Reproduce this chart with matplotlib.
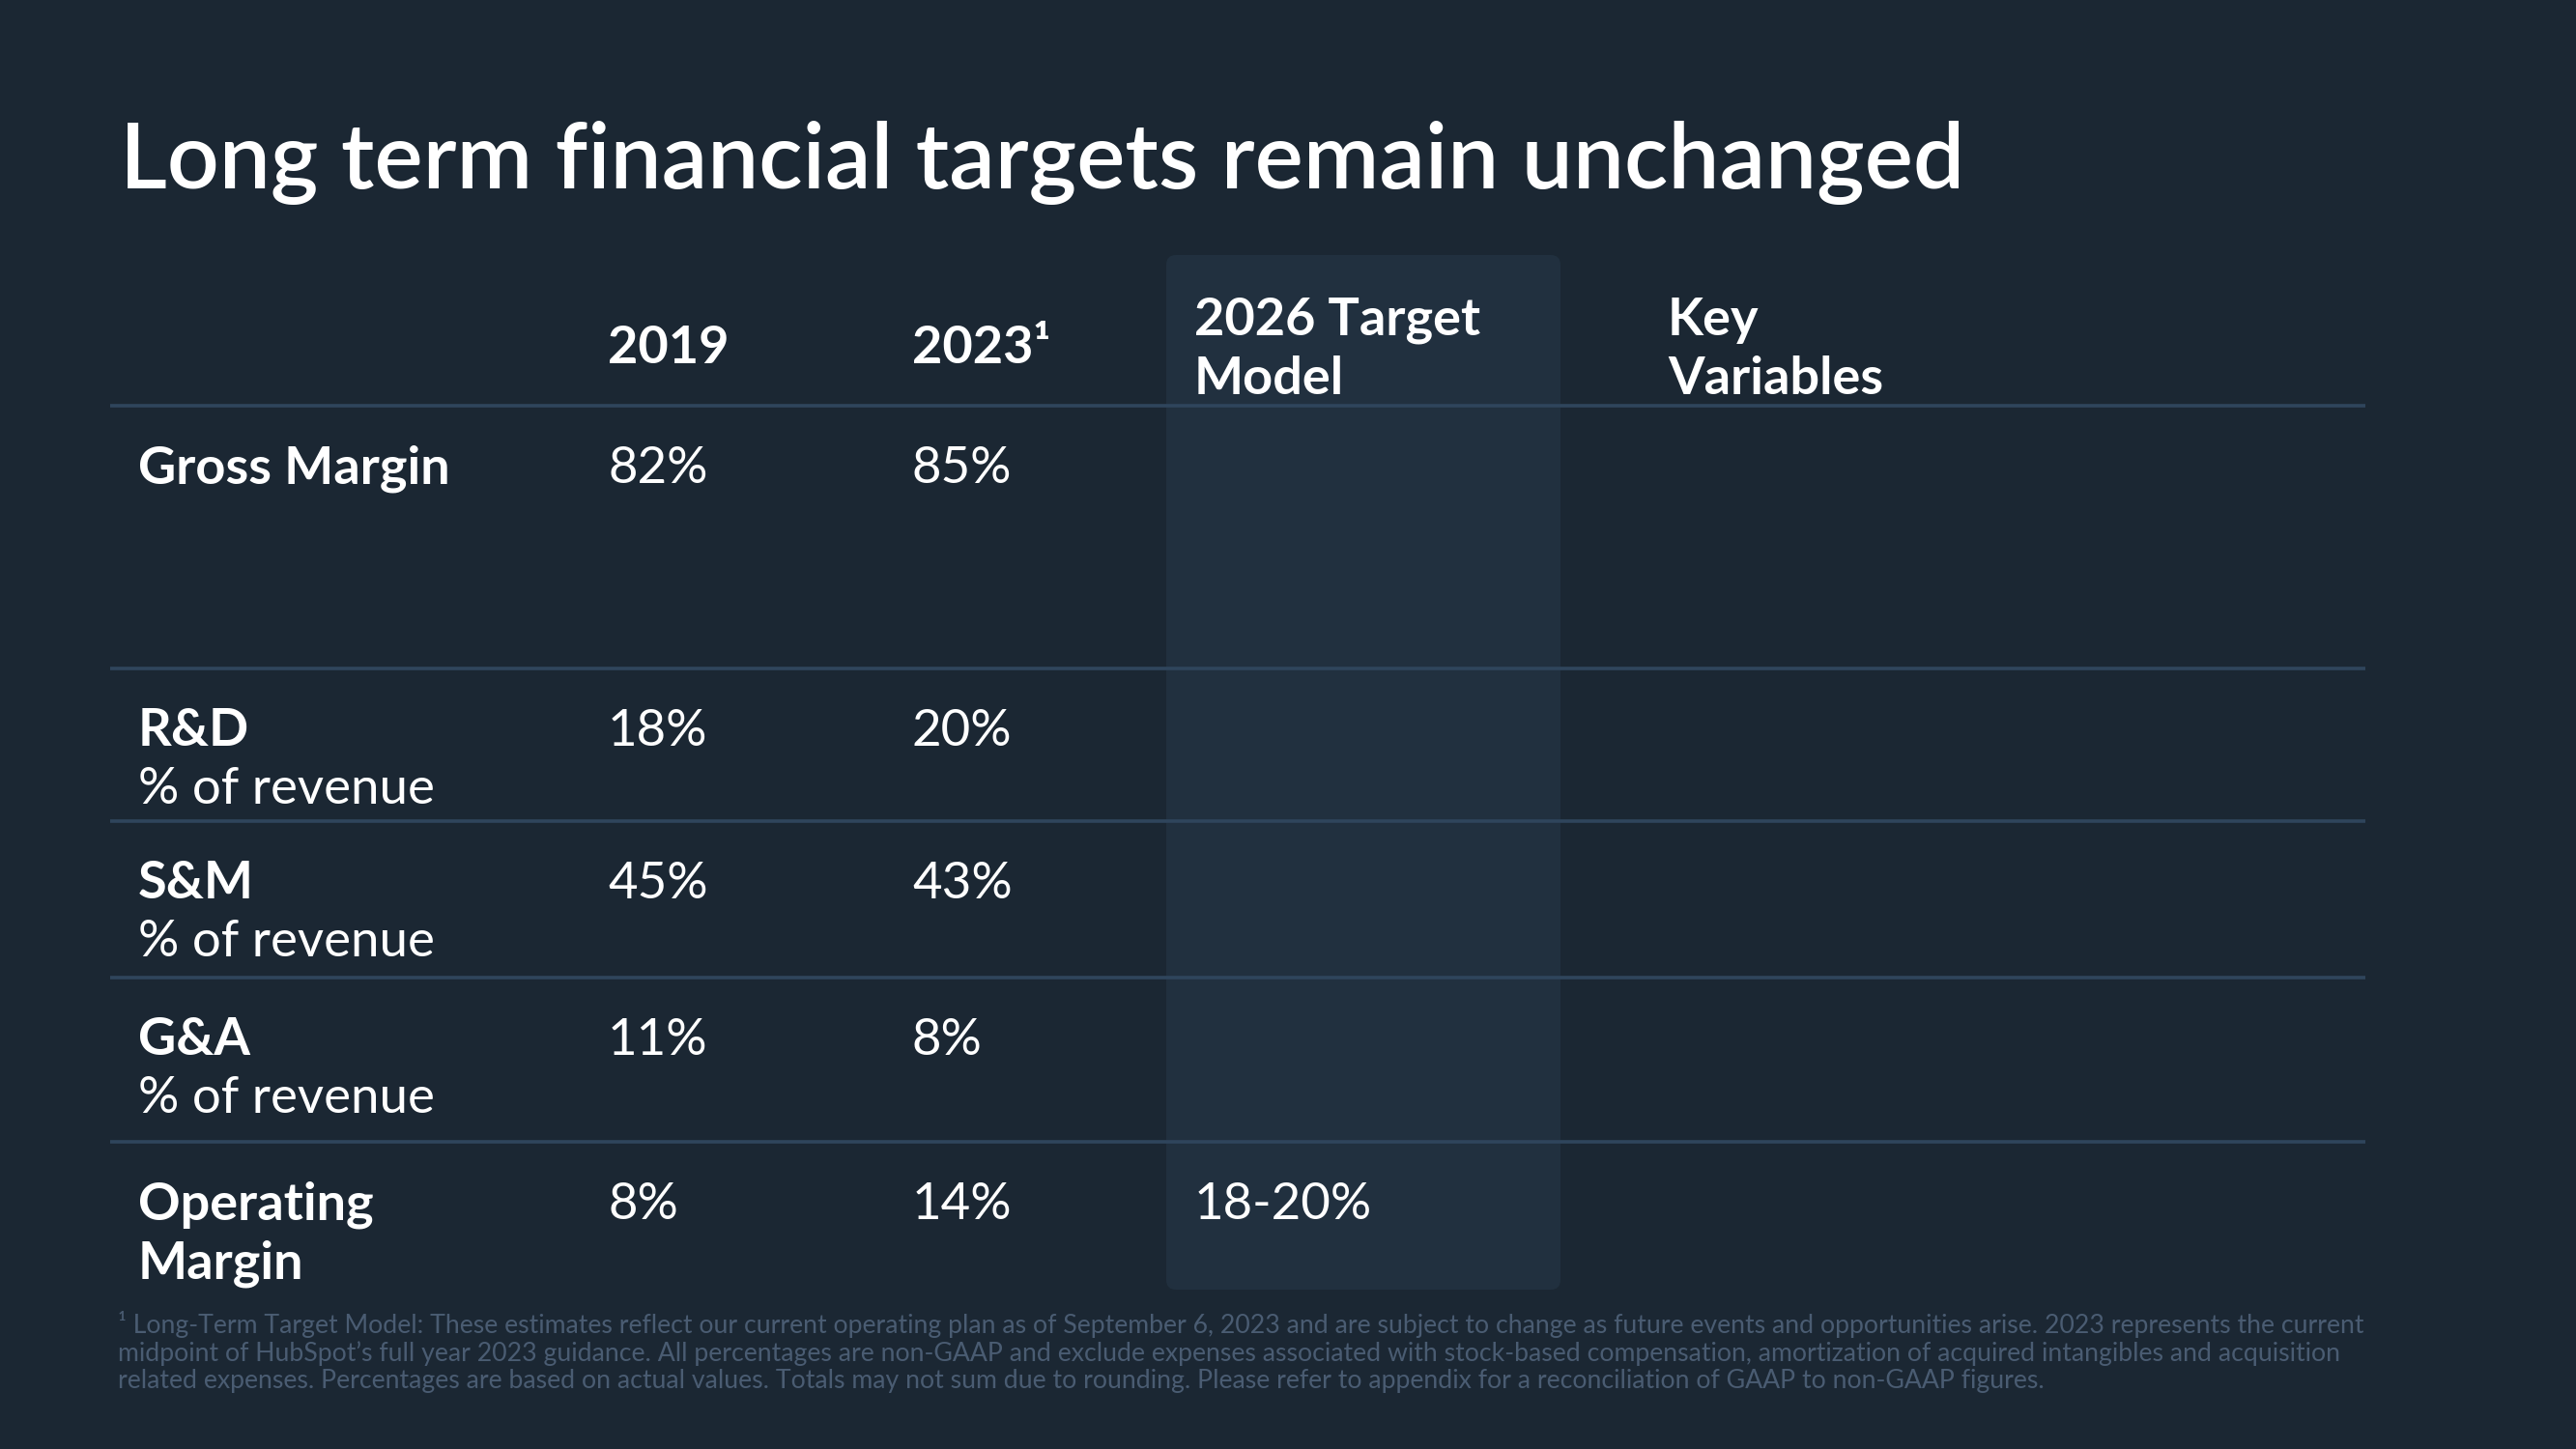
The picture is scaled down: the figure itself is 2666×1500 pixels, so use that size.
import matplotlib
matplotlib.use("Agg")
import matplotlib.pyplot as plt
from matplotlib.patches import FancyBboxPatch

title = "Long term financial targets remain unchanged"
headers = ["2019", "2023\u00b9", "2026 Target\nModel", "Key\nVariables"]
row_titles = ["Gross Margin", "R&D", "S&M", "G&A", "Operating\nMargin"]
row_subtitles = ["", "% of revenue", "% of revenue", "% of revenue", ""]
values_2019 = ["82%", "18%", "45%", "11%", "8%"]
values_2023 = ["85%", "20%", "43%", "8%", "14%"]
values_2026 = ["", "", "", "", "18-20%"]
footnote = ("\u00b9 Long-Term Target Model: These estimates reflect our current operating plan as of September 6, 2023 and are subject to change as future events and opportunities arise. 2023 represents the current\n"
            "midpoint of HubSpot\u2019s full year 2023 guidance. All percentages are non-GAAP and exclude expenses associated with stock-based compensation, amortization of acquired intangibles and acquisition\n"
            "related expenses. Percentages are based on actual values. Totals may not sum due to rounding. Please refer to appendix for a reconciliation of GAAP to non-GAAP figures.")

BG = "#1b2733"
BOX = "#21303f"
LINE = "#2f455c"
FOOT = "#4a5c72"
FONT = ["Lato", "DejaVu Sans"]

plt.rcParams['font.family'] = FONT

fig = plt.figure(figsize=(26.66, 15), dpi=100, facecolor=BG)
ax = fig.add_axes([0, 0, 1, 1])
ax.set_xlim(0, 2666)
ax.set_ylim(1500, 0)
ax.axis('off')
ax.set_facecolor(BG)

# highlight column
box = FancyBboxPatch((1207, 264), 408, 1071, boxstyle="round,pad=0,rounding_size=10",
                     facecolor=BOX, edgecolor='none', zorder=1)
ax.add_patch(box)

ax.text(124, 168, title, fontsize=68, fontweight='semibold', color='white',
        va='center', ha='left', zorder=3)

col_x = [629, 944, 1236, 1726]
HS = 39
BS = 39
RS = 38
dy = 4
# headers
ax.text(col_x[0], 357 + dy, headers[0], fontsize=HS, fontweight='bold', color='white', va='center', zorder=3)
ax.text(col_x[1], 357 + dy, headers[1], fontsize=HS, fontweight='bold', color='white', va='center', zorder=3)
for i in (2, 3):
    l1, l2 = headers[i].split("\n")
    ax.text(col_x[i], 327 + dy, l1, fontsize=HS, fontweight='bold', color='white', va='center', zorder=3)
    ax.text(col_x[i], 388 + dy, l2, fontsize=HS, fontweight='bold', color='white', va='center', zorder=3)

# separators
line_y = [420, 692, 850, 1012, 1182]
for y in line_y:
    ax.plot([114, 2448], [y, y], color=LINE, lw=2.6, solid_capstyle='butt', zorder=2)

row_y = [481, 753, 911, 1073, 1243]
for i, y0 in enumerate(row_y):
    y = y0 + dy
    t = row_titles[i].split("\n")
    ax.text(143, y, t[0], fontsize=BS, fontweight='bold', color='white', va='center', zorder=3)
    if len(t) > 1:
        ax.text(143, y + 61, t[1], fontsize=BS, fontweight='bold', color='white', va='center', zorder=3)
    if row_subtitles[i]:
        ax.text(143, y + 61, row_subtitles[i], fontsize=RS, color='white', va='center', zorder=3)
    for xx, vals in zip(col_x[:3], (values_2019, values_2023, values_2026)):
        if vals[i]:
            ax.text(xx, y, vals[i], fontsize=RS, color='white', va='center', zorder=3)

ax.text(122, 1357, footnote, fontsize=19.2, color=FOOT, va='top', ha='left',
        linespacing=1.16, zorder=3)

fig.savefig("out.png", dpi=100, facecolor=BG)
